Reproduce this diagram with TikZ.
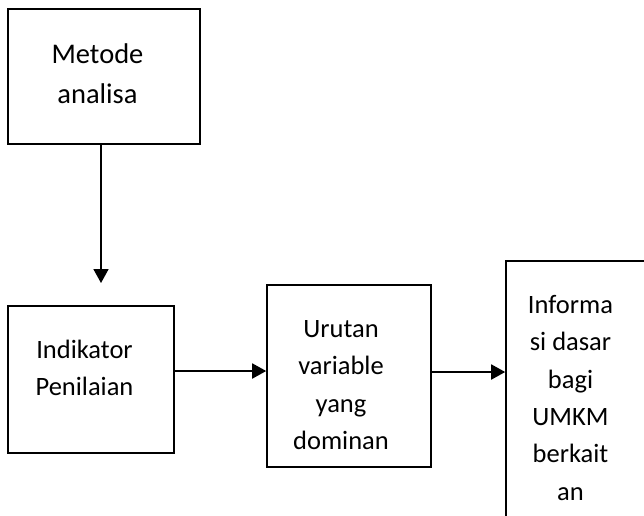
\documentclass[tikz,border=0pt]{standalone}
\usepackage{fontspec}
\setmainfont{Carlito}
\usetikzlibrary{arrows.meta}
\tikzset{
  boxshape/.style={draw=black, line width=1.6pt, rectangle, inner sep=0pt},
  txt/.style={anchor=north, align=center, inner sep=0pt, text=black},
  bigtxt/.style={txt, font=\fontsize{28.5}{40}\selectfont},
  smtxt/.style={txt, font=\fontsize{26.5}{37.4}\selectfont},
  arr/.style={draw=black, line width=1.8pt, -{Triangle[length=14pt,width=15pt]}}
}
\begin{document}
\begin{tikzpicture}[x=1pt,y=-1pt]
\useasboundingbox (0,0) rectangle (644,515);
\clip (0,0) rectangle (644,515);
% boxes
\node[boxshape, minimum width=192pt, minimum height=135pt] (m) at (104,76.5) {};
\node[boxshape, minimum width=166pt, minimum height=147pt] (ind) at (91,379.5) {};
\node[boxshape, minimum width=164pt, minimum height=182pt] (urut) at (349,376) {};
\node[boxshape, minimum width=174pt, minimum height=299pt] (info) at (593,410.5) {};
% texts
\node[bigtxt] (tm) at (97.5,35) {\strut Metode\\analisa};
\node[smtxt] (tind) at (84.5,331.9) {\strut Indikator\\Penilaian};
\node[smtxt] (turut) at (341,310.9) {\strut Urutan\\variable\\yang\\dominan};
\node[smtxt] (tinfo) at (570.5,286.9) {\strut Informa\\si dasar\\bagi\\UMKM\\berkait\\an};
% connectors
\coordinate (a1end) at (101,283);
\draw[arr] (m.south -| a1end) -- (a1end);
\draw[arr] (ind.east |- 0,371) -- (urut.west |- 0,371);
\draw[arr] (urut.east |- 0,372) -- (info.west |- 0,372);
\end{tikzpicture}
\end{document}
